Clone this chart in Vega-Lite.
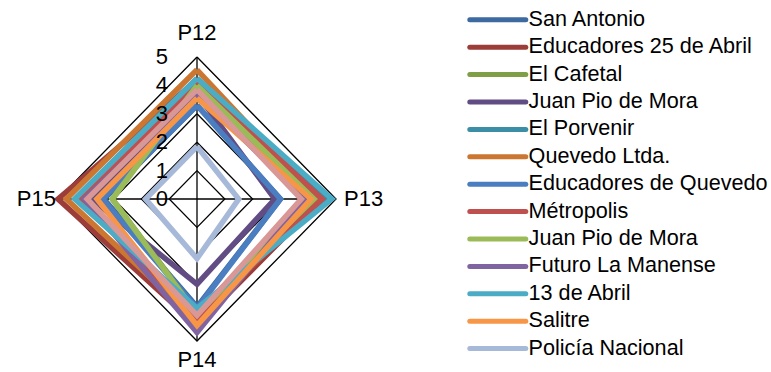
{
  "$schema": "https://vega.github.io/schema/vega-lite/v6.json",
  "width": 278,
  "height": 284,
  "autosize": "none",
  "padding": {"left": 58, "top": 57, "right": 435, "bottom": 31},
  "background": "white",
  "config": {"view": {"stroke": null}, "font": "Liberation Sans"},
  "datasets": {
    "series": [
      {"s": "San Antonio", "P12": 3.3, "P13": 3.0, "P14": 3.8, "P15": 3.35},
      {"s": "Educadores 25 de Abril", "P12": 4.2, "P13": 4.5, "P14": 4.45, "P15": 5.0},
      {"s": "El Cafetal", "P12": 4.0, "P13": 4.15, "P14": 4.0, "P15": 3.05},
      {"s": "Juan Pio de Mora", "P12": 3.7, "P13": 2.8, "P14": 3.0, "P15": 3.8},
      {"s": "El Porvenir", "P12": 4.2, "P13": 4.6, "P14": 3.9, "P15": 4.35},
      {"s": "Quevedo Ltda.", "P12": 4.55, "P13": 4.35, "P14": 4.3, "P15": 4.7},
      {"s": "Educadores de Quevedo", "P12": 3.3, "P13": 3.0, "P14": 3.85, "P15": 3.4},
      {"s": "Métropolis", "P12": 4.1, "P13": 4.5, "P14": 4.2, "P15": 4.15},
      {"s": "Juan Pio de Mora ", "P12": 4.0, "P13": 4.2, "P14": 4.05, "P15": 3.05},
      {"s": "Futuro La Manense", "P12": 3.7, "P13": 3.9, "P14": 4.7, "P15": 4.05},
      {"s": "13 de Abril", "P12": 4.25, "P13": 4.85, "P14": 3.85, "P15": 4.4},
      {"s": "Salitre", "P12": 3.55, "P13": 4.1, "P14": 4.45, "P15": 3.6},
      {"s": "Policía Nacional", "P12": 1.85, "P13": 1.5, "P14": 2.1, "P15": 1.85},
      {"s": "Serie 14", "P12": 3.85, "P13": 3.75, "P14": 4.1, "P15": 3.95}
    ],
    "grid": [
      {"s": "g1", "P12": 1, "P13": 1, "P14": 1, "P15": 1},
      {"s": "g2", "P12": 2, "P13": 2, "P14": 2, "P15": 2},
      {"s": "g3", "P12": 3, "P13": 3, "P14": 3, "P15": 3},
      {"s": "g4", "P12": 4, "P13": 4, "P14": 4, "P15": 4},
      {"s": "g5", "P12": 5, "P13": 5, "P14": 5, "P15": 5}
    ],
    "spokes": [
      {"key": "P12", "value": 5},
      {"key": "P13", "value": 5},
      {"key": "P14", "value": 5},
      {"key": "P15", "value": 5}
    ],
    "ticks": [
      {"t": 0}, {"t": 1}, {"t": 2}, {"t": 3}, {"t": 4}, {"t": 5}
    ]
  },
  "layer": [
    {
      "data": {"name": "grid"},
      "transform": [
        {"calculate": "datum.P12", "as": "P12c"},
        {"fold": ["P12", "P13", "P14", "P15", "P12c"]},
        {"calculate": "datum.key === 'P13' ? datum.value : (datum.key === 'P15' ? -datum.value : 0)", "as": "x"},
        {"calculate": "(datum.key === 'P12' || datum.key === 'P12c') ? datum.value : (datum.key === 'P14' ? -datum.value : 0)", "as": "y"},
        {"calculate": "indexof(['P12','P13','P14','P15','P12c'], datum.key)", "as": "o"}
      ],
      "mark": {"type": "line", "color": "black", "strokeWidth": 1.3, "strokeJoin": "miter"},
      "encoding": {
        "x": {"field": "x", "type": "quantitative", "scale": {"domain": [-5, 5], "nice": false}, "axis": null},
        "y": {"field": "y", "type": "quantitative", "scale": {"domain": [-5, 5], "nice": false}, "axis": null},
        "detail": {"field": "s"},
        "order": {"field": "o"}
      }
    },
    {
      "data": {"name": "spokes"},
      "transform": [
        {"calculate": "datum.key === 'P13' ? datum.value : (datum.key === 'P15' ? -datum.value : 0)", "as": "x"},
        {"calculate": "datum.key === 'P12' ? datum.value : (datum.key === 'P14' ? -datum.value : 0)", "as": "y"}
      ],
      "mark": {"type": "rule", "color": "black", "strokeWidth": 1.3},
      "encoding": {
        "x": {"field": "x", "type": "quantitative"},
        "y": {"field": "y", "type": "quantitative"},
        "x2": {"datum": 0},
        "y2": {"datum": 0}
      }
    },
    {
      "data": {"name": "series"},
      "transform": [
        {"calculate": "datum.P12", "as": "P12c"},
        {"fold": ["P12", "P13", "P14", "P15", "P12c"]},
        {"calculate": "datum.key === 'P13' ? datum.value : (datum.key === 'P15' ? -datum.value : 0)", "as": "x"},
        {"calculate": "(datum.key === 'P12' || datum.key === 'P12c') ? datum.value : (datum.key === 'P14' ? -datum.value : 0)", "as": "y"},
        {"calculate": "indexof(['P12','P13','P14','P15','P12c'], datum.key)", "as": "o"}
      ],
      "mark": {"type": "line", "strokeWidth": 5.5, "strokeJoin": "miter", "strokeCap": "butt"},
      "encoding": {
        "x": {"field": "x", "type": "quantitative"},
        "y": {"field": "y", "type": "quantitative"},
        "order": {"field": "o"},
        "color": {
          "field": "s",
          "type": "nominal",
          "sort": null,
          "scale": {
            "domain": ["San Antonio", "Educadores 25 de Abril", "El Cafetal", "Juan Pio de Mora", "El Porvenir", "Quevedo Ltda.", "Educadores de Quevedo", "Métropolis", "Juan Pio de Mora ", "Futuro La Manense", "13 de Abril", "Salitre", "Policía Nacional", "Serie 14"],
            "range": ["#3D6AA1", "#9C3D3A", "#7E9F46", "#624C84", "#3C8EA6", "#CC7731", "#4A7EC0", "#C0504D", "#9BBB59", "#8064A2", "#4BACC6", "#F79646", "#A7B9D9", "#D99795"]
          },
          "legend": {
            "values": ["San Antonio", "Educadores 25 de Abril", "El Cafetal", "Juan Pio de Mora", "El Porvenir", "Quevedo Ltda.", "Educadores de Quevedo", "Métropolis", "Juan Pio de Mora ", "Futuro La Manense", "13 de Abril", "Salitre", "Policía Nacional"],
            "title": null,
            "orient": "none",
            "legendX": 415,
            "legendY": -48,
            "symbolType": "M-2,0H6",
            "symbolSize": 196,
            "symbolStrokeWidth": 5,
            "labelFontSize": 21.6,
            "labelColor": "black",
            "labelLimit": 400,
            "labelOffset": 34,
            "rowPadding": 4.4,
            "encode": {"symbols": {"update": {"strokeCap": {"value": "round"}}}}
          }
        }
      }
    },
    {
      "data": {"name": "ticks"},
      "mark": {"type": "text", "align": "right", "baseline": "middle", "dx": -29, "fontSize": 22, "color": "black"},
      "encoding": {
        "x": {"datum": 0, "type": "quantitative"},
        "y": {"field": "t", "type": "quantitative"},
        "text": {"field": "t"}
      }
    },
    {
      "data": {"values": [{"k": "P12", "v": 5}]},
      "mark": {"type": "text", "align": "center", "baseline": "middle", "dy": -24, "fontSize": 22, "color": "black"},
      "encoding": {"x": {"datum": 0, "type": "quantitative"}, "y": {"field": "v", "type": "quantitative"}, "text": {"field": "k"}}
    },
    {
      "data": {"values": [{"k": "P14", "v": -5}]},
      "mark": {"type": "text", "align": "center", "baseline": "middle", "dy": 19, "fontSize": 22, "color": "black"},
      "encoding": {"x": {"datum": 0, "type": "quantitative"}, "y": {"field": "v", "type": "quantitative"}, "text": {"field": "k"}}
    },
    {
      "data": {"values": [{"k": "P13", "v": 5}]},
      "mark": {"type": "text", "align": "left", "baseline": "middle", "dx": 8, "fontSize": 22, "color": "black"},
      "encoding": {"x": {"field": "v", "type": "quantitative"}, "y": {"datum": 0, "type": "quantitative"}, "text": {"field": "k"}}
    },
    {
      "data": {"values": [{"k": "P15", "v": -5}]},
      "mark": {"type": "text", "align": "right", "baseline": "middle", "dx": -2, "fontSize": 22, "color": "black"},
      "encoding": {"x": {"field": "v", "type": "quantitative"}, "y": {"datum": 0, "type": "quantitative"}, "text": {"field": "k"}}
    }
  ]
}
